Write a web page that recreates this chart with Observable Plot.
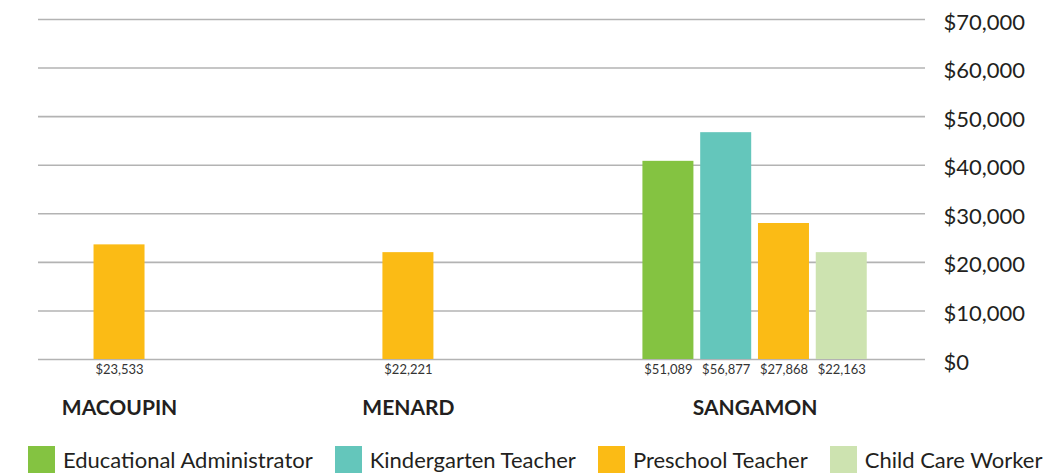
<!DOCTYPE html>
<html>
<head>
<meta charset="utf-8">
<script src="https://cdn.jsdelivr.net/npm/d3@7"></script>
<script src="https://cdn.jsdelivr.net/npm/@observablehq/plot@0.6"></script>
<style>
  html, body { margin: 0; padding: 0; background: #fff; }
  body { width: 1053px; height: 473px; overflow: hidden; font-family: Lato, "Open Sans", sans-serif; }
  #chart svg { display: block; }
  .legend { display: flex; align-items: center; margin-left: 28px; margin-top: 6px; height: 27px; }
  .item { display: flex; align-items: center; margin-right: 22px; }
  .sw { width: 27px; height: 27px; margin-right: 8px; }
  .lab { font-size: 22px; color: #231f20; white-space: nowrap; }
</style>
</head>
<body>
<div id="chart"></div>
<div class="legend" id="legend"></div>
<script>
// ---- data ----
const counties = ["MACOUPIN", "MENARD", "SANGAMON"];
const occupations = ["Educational Administrator", "Kindergarten Teacher", "Preschool Teacher", "Child Care Worker"];
const occupationColors = ["#84c341", "#64c6bb", "#fbbb15", "#cde3b0"];
const barCounty = ["MACOUPIN", "MENARD", "SANGAMON", "SANGAMON", "SANGAMON", "SANGAMON"];
const barOccupation = ["Preschool Teacher", "Preschool Teacher", "Educational Administrator", "Kindergarten Teacher", "Preschool Teacher", "Child Care Worker"];
const barHeights = [23600, 22000, 40800, 46700, 28000, 22000];
const valueLabels = ["$23,533", "$22,221", "$51,089", "$56,877", "$27,868", "$22,163"];
const yTicks = [0, 10000, 20000, 30000, 40000, 50000, 60000, 70000];

// ---- build table ----
const bars = barHeights.map((v, i) => ({
  county: barCounty[i],
  occupation: barOccupation[i],
  key: barCounty[i] + "|" + barOccupation[i],
  value: v,
  label: valueLabels[i]
}));

// half-width band slots: empty slots between counties and between bars of a county
const gapBetweenCounties = [9, 8];
const gapWithinCounty = 1;
const domain = [];
let sp = 0;
counties.forEach((c, ci) => {
  const cb = bars.filter(b => b.county === c);
  cb.forEach((b, bi) => {
    domain.push(b.key);
    if (bi < cb.length - 1) for (let g = 0; g < gapWithinCounty; g++) domain.push("sp" + (sp++));
  });
  if (ci < counties.length - 1) for (let g = 0; g < gapBetweenCounties[ci]; g++) domain.push("sp" + (sp++));
});

const countyLabels = counties.map(c => {
  const ks = bars.filter(b => b.county === c).map(b => domain.indexOf(b.key));
  return {county: c, slot: domain[Math.round((ks[0] + ks[ks.length - 1]) / 2)]};
});

const width = 1053, height = 440;
const marginLeft = 38, marginRight = 128;
const paddingOuter = 2.352;
const step = (width - marginLeft - marginRight) / (domain.length + 2 * paddingOuter);
const barWidth = 51;
const inset = -(barWidth - step) / 2;
const fmt = d3.format(",");
const ink = "#231f20";

const chart = Plot.plot({
  width, height,
  marginLeft, marginRight, marginTop: 19, marginBottom: 81,
  style: {fontFamily: "Lato, 'Open Sans', sans-serif", color: ink, background: "#fff"},
  x: {type: "band", domain, paddingInner: 0, paddingOuter, align: 0.49, round: false, axis: null},
  y: {domain: [0, 70000], axis: null, label: null},
  color: {domain: occupations, range: occupationColors},
  marks: [
    Plot.ruleY(yTicks, {stroke: "#b3b3b3", strokeWidth: 1.6}),
    Plot.axisY(yTicks, {anchor: "right", tickSize: 0, tickPadding: 18, fontSize: 22, dy: 3, label: null,
      tickFormat: d => "$" + fmt(d), fill: ink}),
    Plot.barY(bars, {x: "key", y: "value", fill: "occupation", insetLeft: inset, insetRight: inset}),
    Plot.text(bars, {x: "key", y: 0, text: "label", lineAnchor: "top", dy: 5, fontSize: 13, fill: "#333"}),
    Plot.text(countyLabels, {x: "slot", y: 0, text: "county", lineAnchor: "top", dy: 41,
      fontSize: 21, fontWeight: "bold", fill: ink})
  ]
});
document.getElementById("chart").appendChild(chart);

const legend = document.getElementById("legend");
occupations.forEach((o, i) => {
  const it = document.createElement("div");
  it.className = "item";
  it.innerHTML = `<div class="sw" style="background:${occupationColors[i]}"></div><div class="lab">${o}</div>`;
  legend.appendChild(it);
});
</script>
</body>
</html>
